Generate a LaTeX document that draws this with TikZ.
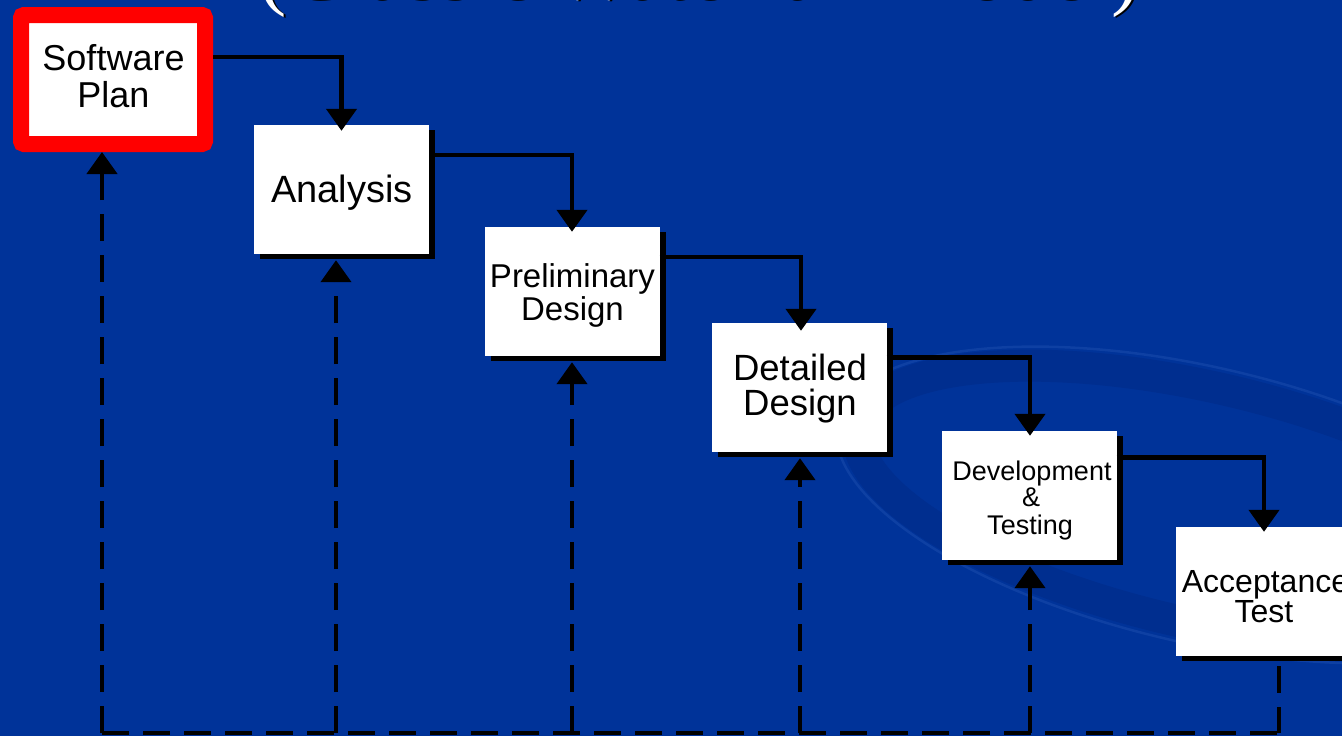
\documentclass[tikz,border=0pt]{standalone}
\usepackage{fontspec}
\setmainfont{Liberation Sans}
\newfontfamily\titlefont{Liberation Serif}
\usetikzlibrary{arrows.meta,shadows,calc}
\definecolor{bg}{RGB}{0,51,153}
\definecolor{swirlA}{RGB}{0,46,143}
\definecolor{swirlB}{RGB}{14,64,163}
\begin{document}
\begin{tikzpicture}[x=1pt,y=-1pt,
  box/.style={rectangle, fill=white, minimum width=175pt, minimum height=129pt, inner sep=0pt,
    general shadow={fill=black, shadow xshift=6pt, shadow yshift=-5pt}},
  redbox/.style={rectangle, draw=red, fill=white, line width=16pt, rounded corners=3pt,
    minimum width=184pt, minimum height=129pt, inner sep=0pt},
  txt/.style={anchor=base, inner sep=0pt, text=black},
  flow/.style={line width=4.5pt, -{Triangle[width=30pt,length=22pt]}},
  fb/.style={line width=4.5pt, dash pattern=on 27pt off 14pt, -{Triangle[width=30pt,length=22pt]}},
  fbline/.style={line width=4.5pt, dash pattern=on 27pt off 14pt}
]
\clip (0,0) rectangle (1342,736);
\fill[bg] (0,0) rectangle (1342,736);
% background swirl
\draw[swirlA, line width=32pt] (1200,505) ellipse [x radius=350, y radius=118, rotate=-13];
\draw[swirlB, line width=2.5pt] (1200,505) ellipse [x radius=372, y radius=138, rotate=-13];
% title (cut off at the top)
\node[anchor=base, inner sep=0pt, text=black, font=\titlefont\fontsize{85}{90}\selectfont] (titleS) at (701,1) {(Classic Waterfall Model)};
\node[anchor=base, inner sep=0pt, text=white, font=\titlefont\fontsize{85}{90}\selectfont] (title) at (699,-1) {(Classic Waterfall Model)};
% boxes
\node[redbox] (sp) at (113,79.5) {};
\node[box] (an) at (341.5,189.5) {};
\node[box] (pd) at (572,291.5) {};
\node[box] (dd) at (799,387.5) {};
\node[box] (dt) at (1029,495.5) {};
\node[box] (at) at (1263,591.5) {};
% texts
\node[txt, font=\fontsize{36}{37}\selectfont] (spA) at (113.5,70) {Software};
\node[txt, font=\fontsize{36}{37}\selectfont] (spB) at (113.5,107) {Plan};
\node[txt, font=\fontsize{38}{40}\selectfont] (anA) at (342,202) {Analysis};
\node[txt, font=\fontsize{33}{35}\selectfont] (pdA) at (572.5,287) {Preliminary};
\node[txt, font=\fontsize{33}{35}\selectfont] (pdB) at (572.5,320) {Design};
\node[txt, font=\fontsize{36.5}{38}\selectfont] (ddA) at (800,380) {Detailed};
\node[txt, font=\fontsize{36.5}{38}\selectfont] (ddB) at (800,415) {Design};
\node[txt, font=\fontsize{27}{28}\selectfont] (dtA) at (1032,480) {Development};
\node[txt, font=\fontsize{27}{28}\selectfont] (dtB) at (1031,506) {\&};
\node[txt, font=\fontsize{27}{28}\selectfont] (dtC) at (1030,534) {Testing};
\node[txt, font=\fontsize{32}{33}\selectfont] (atA) at (1265.5,592) {Acceptance};
\node[txt, font=\fontsize{32}{33}\selectfont] (atB) at (1264,622) {Test};
% forward flow
\draw[flow] ([yshift=22.5pt]sp.east) -| ([yshift=-6pt]an.north);
\draw[flow] ([yshift=34.5pt]an.east) -| ([yshift=-5pt]pd.north);
\draw[flow] ([yshift=34.5pt]pd.east) -| ([xshift=2pt,yshift=-8pt]dd.north);
\draw[flow] ([yshift=30pt]dd.east) -| ([xshift=1pt,yshift=-5pt]dt.north);
\draw[flow] ([yshift=38pt]dt.east) -| ([xshift=1pt,yshift=-5pt]at.north);
% feedback (dashed)
\coordinate (b1) at (102,733);
\coordinate (b2) at (336,733);
\coordinate (b3) at (572,733);
\coordinate (b4) at (800,733);
\coordinate (b5) at (1030,733);
\coordinate (b6) at (1279,733);
\draw[fbline] ([xshift=16pt,yshift=-10pt]at.south) -- (b6);
\draw[fbline] (b1) -- (b6);
\draw[fb] (b1) -- ([xshift=-11pt]sp.south);
\draw[fb] (b2) -- ([xshift=-5.5pt,yshift=-6pt]an.south);
\draw[fb] (b3) -- ([yshift=-6pt]pd.south);
\draw[fb] (b4) -- ([xshift=1pt,yshift=-6pt]dd.south);
\draw[fb] (b5) -- ([xshift=1pt,yshift=-6pt]dt.south);
\end{tikzpicture}
\end{document}
